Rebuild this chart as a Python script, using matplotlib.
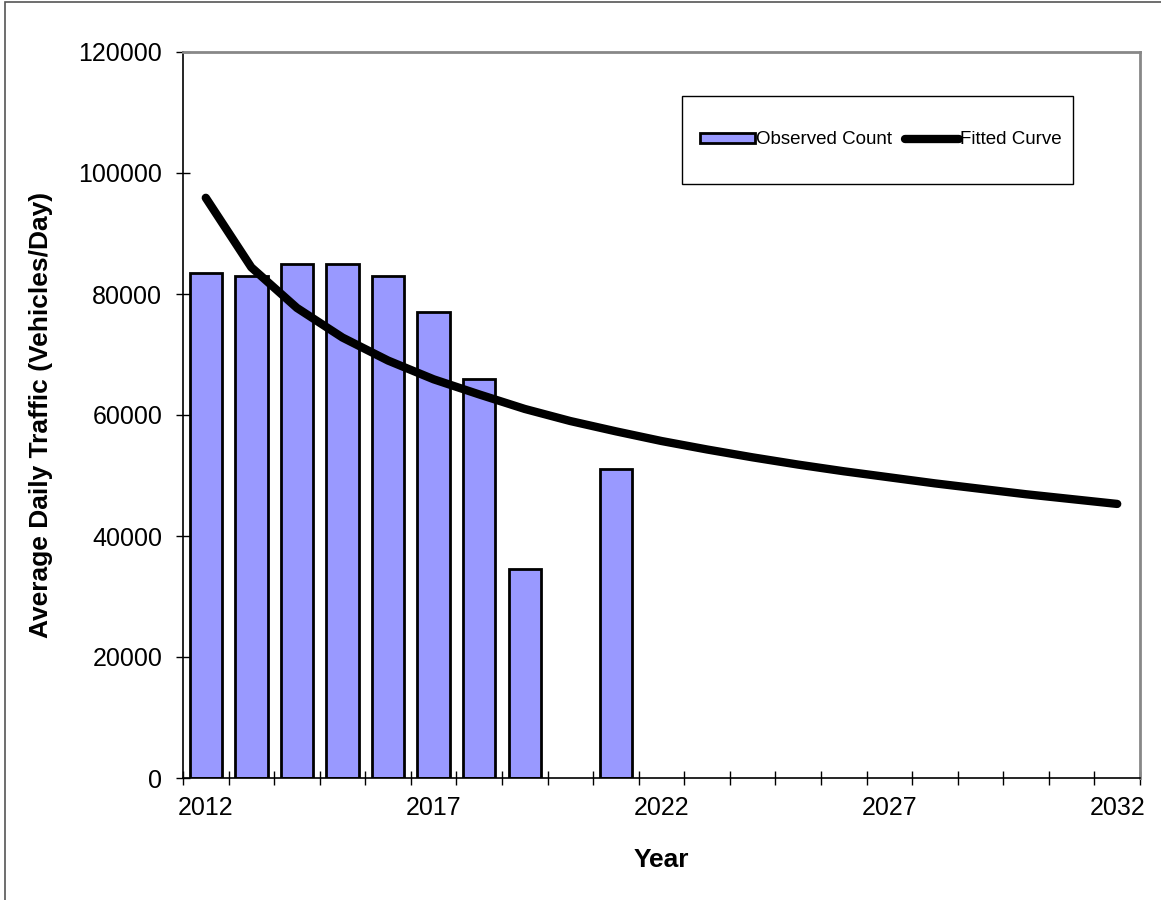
import matplotlib.pyplot as plt
from matplotlib.patches import Rectangle
from matplotlib.ticker import FixedLocator

plt.rcParams['font.family'] = ['Liberation Sans', 'DejaVu Sans']

years = list(range(2012, 2033))
observed = [83500, 83000, 85000, 85000, 83000, 77000, 66000, 34500, None, 51000]
fitted = [95900, 84400, 77700, 72800, 69000, 65900, 63400, 61000, 59000, 57300,
          55700, 54300, 53000, 51800, 50700, 49700, 48700, 47800, 46900, 46100, 45300]
tick_labels = ['2012', '2017', '2022', '2027', '2032']

W, H = 1161, 900
fg = plt.figure(figsize=(W / 100, H / 100), dpi=100)
# border of the chart area (only top and left show in the picture)
fg.patches.append(Rectangle((5 / W, -0.1), 1.2, 1.1 - 2 / H, transform=fg.transFigure,
                            fill=False, edgecolor='#555555', linewidth=1.2, zorder=0))

ax = fg.add_axes([183 / W, 1 - 778 / H, (1140 - 183) / W, (778 - 52) / H])

bx = [i for i, v in enumerate(observed) if v is not None]
bh = [v for v in observed if v is not None]
bars = ax.bar(bx, bh, width=0.71, color='#9999FF', edgecolor='black', linewidth=2,
              label='Observed Count', zorder=2)
line, = ax.plot(range(len(years)), fitted, color='black', linewidth=6, solid_capstyle='round',
                label='Fitted Curve', zorder=3)

ax.set_xlim(-0.5, len(years) - 0.5)
ax.set_ylim(0, 120000)
ax.set_yticks(range(0, 120001, 20000))
ax.set_xticks([years.index(int(t)) for t in tick_labels])
ax.set_xticklabels(tick_labels)
ax.xaxis.set_minor_locator(FixedLocator([i - 0.5 for i in range(len(years) + 1)]))
ax.tick_params(axis='x', which='major', length=0, labelsize=18, pad=13)
ax.tick_params(axis='x', which='minor', direction='inout', length=10, width=1)
ax.tick_params(axis='y', direction='inout', length=10, width=1, labelsize=18, pad=10)

for s in ['top', 'right']:
    ax.spines[s].set_color('#888888')
    ax.spines[s].set_linewidth(2)
for s in ['left', 'bottom']:
    ax.spines[s].set_color('black')
    ax.spines[s].set_linewidth(1.2)

ax.set_xlabel('Year', fontsize=19, fontweight='bold', labelpad=20)
ax.set_ylabel('Average Daily Traffic (Vehicles/Day)', fontsize=19, fontweight='bold', labelpad=18)

# legend box
fg.patches.append(Rectangle((682 / W, 1 - 184 / H), (1073 - 682) / W, (184 - 96) / H,
                            transform=fg.transFigure, fill=False, edgecolor='black',
                            linewidth=1, zorder=5))
leg = ax.legend([bars, line], ['Observed Count', 'Fitted Curve'],
                loc='center', bbox_to_anchor=(881 / W, 1 - 140 / H),
                bbox_transform=fg.transFigure, ncol=2, fontsize=13.5, frameon=False,
                handlelength=2.9, handleheight=0.45, handletextpad=0.05,
                columnspacing=0.7)

fg.savefig('out.png', dpi=100)
